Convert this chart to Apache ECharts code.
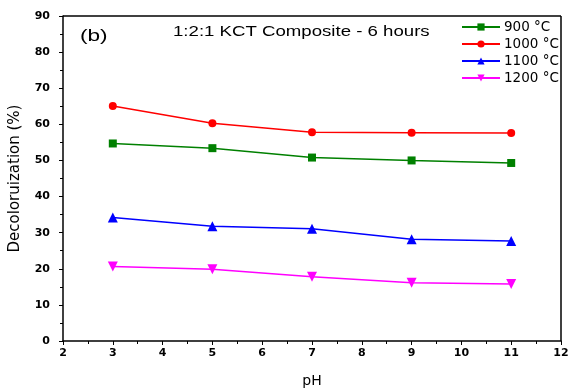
<!DOCTYPE html>
<html>
<head>
<meta charset="utf-8">
<script src="https://cdn.jsdelivr.net/npm/echarts@6/dist/echarts.min.js"></script>
<style>
  html, body { margin: 0; padding: 0; background: #fff; }
  #chart { width: 574px; height: 388px; }
</style>
</head>
<body>
<div id="chart"></div>
<script>
// pH values at which decolorization was measured
const phValues = [3, 5, 7, 9, 11];

// Decolorization (%) for each calcination temperature
const t900 = [54.7, 53.4, 50.8, 50.0, 49.3];
const t1000 = [65.1, 60.3, 57.8, 57.7, 57.6];
const t1100 = [34.2, 31.8, 31.1, 28.2, 27.7];
const t1200 = [20.6, 19.9, 17.8, 16.1, 15.8];

const seriesNames = ['900 °C', '1000 °C', '1100 °C', '1200 °C'];

const pairs = (ys) => phValues.map((x, i) => [x, ys[i]]);

const sans = 'Liberation Sans, Arial, sans-serif';
const wide = 'DejaVu Sans, sans-serif';
const chart = echarts.init(document.getElementById('chart'), null, { renderer: 'canvas' });

function lineSeries(name, data, color, symbol, size, rotate) {
  return {
    name: name,
    type: 'line',
    data: pairs(data),
    symbol: symbol,
    symbolSize: size,
    symbolRotate: rotate || 0,
    showAllSymbol: true,
    lineStyle: { color: color, width: 1.5 },
    itemStyle: { color: color },
    emphasis: { disabled: true },
    animation: false
  };
}

chart.setOption({
  backgroundColor: '#ffffff',
  animation: false,
  grid: {
    left: 63, right: 13, top: 16, bottom: 47,
    containLabel: false, outerBoundsMode: 'none', show: false
  },
  legend: {
    orient: 'vertical',
    left: 456,
    top: 15,
    itemWidth: 38,
    itemHeight: 9,
    itemGap: 3,
    data: seriesNames,
    textStyle: { fontFamily: wide, fontSize: 13.5, color: '#000', padding: [0, 0, 0, -1] }
  },
  xAxis: {
    type: 'value',
    min: 2,
    max: 12,
    interval: 1,
    name: 'pH',
    nameLocation: 'middle',
    nameGap: 33,
    nameTextStyle: { fontFamily: wide, fontSize: 14, color: '#000' },
    axisLine: { show: true, onZero: false, lineStyle: { color: '#000', width: 1.5 } },
    axisTick: { show: true, inside: false, length: 4, lineStyle: { color: '#000', width: 1 } },
    minorTick: { show: true, splitNumber: 2, length: 3, lineStyle: { color: '#000' } },
    axisLabel: { fontFamily: wide, fontSize: 11, fontWeight: 'bold', color: '#000', margin: 7 },
    splitLine: { show: false }
  },
  yAxis: {
    type: 'value',
    min: 0,
    max: 90,
    interval: 10,
    name: 'Decoloruization (%)',
    nameLocation: 'middle',
    nameGap: 40,
    nameTextStyle: { fontFamily: wide, fontSize: 15, color: '#000' },
    axisLine: { show: true, lineStyle: { color: '#000', width: 1.5 } },
    axisTick: { show: true, inside: false, length: 4, lineStyle: { color: '#000', width: 1 } },
    minorTick: { show: true, splitNumber: 2, length: 3, lineStyle: { color: '#000' } },
    axisLabel: { fontFamily: wide, fontSize: 11, fontWeight: 'bold', color: '#000', margin: 13 },
    splitLine: { show: false }
  },
  graphic: [
    // top and right frame lines of the plot box
    { type: 'line', shape: { x1: 63, y1: 16, x2: 561, y2: 16 }, style: { stroke: '#000', lineWidth: 1.5 }, silent: true },
    { type: 'line', shape: { x1: 561, y1: 16, x2: 561, y2: 341 }, style: { stroke: '#000', lineWidth: 1.5 }, silent: true },
    // panel letter and heading inside the plot
    { type: 'text', x: 80, y: 36, scaleX: 1.33, silent: true,
      style: { text: '(b)', font: '17px ' + sans, fill: '#000', textVerticalAlign: 'middle' } },
    { type: 'text', x: 173, y: 32, scaleX: 1.33, silent: true,
      style: { text: '1:2:1 KCT Composite - 6 hours', font: '14px ' + sans, fill: '#000', textVerticalAlign: 'middle' } }
  ],
  series: [
    lineSeries(seriesNames[0], t900, '#008000', 'rect', 8),
    lineSeries(seriesNames[1], t1000, '#ff0000', 'circle', 8),
    lineSeries(seriesNames[2], t1100, '#0000ff', 'triangle', 10),
    lineSeries(seriesNames[3], t1200, '#ff00ff', 'triangle', 10, 180)
  ]
});
</script>
</body>
</html>
